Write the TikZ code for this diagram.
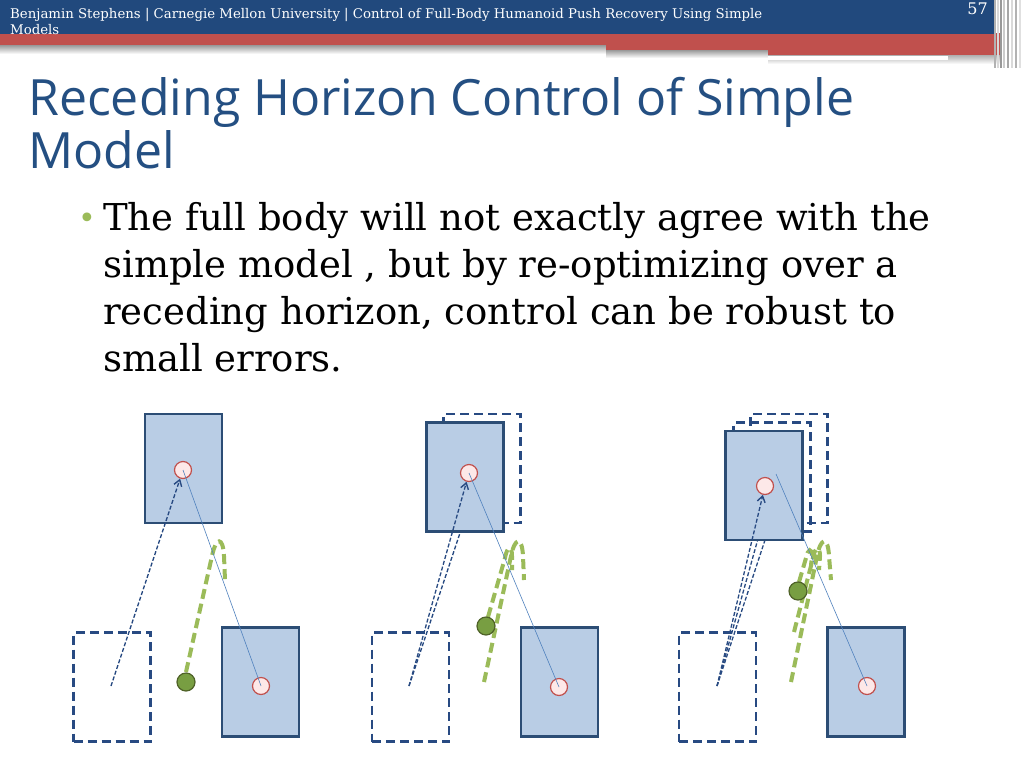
\documentclass[tikz,border=0pt]{standalone}
\usepackage{fontspec}
\setmainfont{DejaVu Serif}
\newfontfamily\titlefont{Open Sans}
\usetikzlibrary{arrows.meta}
\definecolor{hdrblue}{RGB}{33,73,125}
\definecolor{hdrred}{RGB}{192,80,77}
\definecolor{titleblue}{RGB}{36,79,130}
\definecolor{boxfill}{RGB}{185,205,229}
\definecolor{boxdraw}{RGB}{44,77,117}
\definecolor{dashblue}{RGB}{40,74,130}
\definecolor{grnline}{RGB}{155,187,89}
\definecolor{grnfill}{RGB}{120,158,66}
\definecolor{grndraw}{RGB}{79,98,40}
\definecolor{redc}{RGB}{192,80,77}
\definecolor{pinkc}{RGB}{253,232,232}
\definecolor{thinblue}{RGB}{79,129,189}
\tikzset{
  body/.style={rectangle, draw=boxdraw, fill=boxfill, line width=2.5pt, minimum width=77pt, minimum height=109pt, inner sep=0pt},
  ghost/.style={rectangle, draw=dashblue, line width=2.2pt, dash pattern=on 9pt off 5pt, minimum width=77pt, minimum height=109pt, inner sep=0pt},
  foot/.style={circle, draw=redc, line width=1.2pt, fill=pinkc, minimum size=17pt, inner sep=0pt},
  cop/.style={circle, draw=grndraw, fill=grnfill, line width=1.2pt, minimum size=18pt, inner sep=0pt},
  traj/.style={draw=grnline, line width=4pt, dash pattern=on 10pt off 5pt},
  plan/.style={draw=dashblue, line width=1.3pt, dash pattern=on 4pt off 2pt},
  planarrow/.style={plan, -{Straight Barb[length=6pt,width=8pt,line width=1.4pt]}},
  link/.style={draw=thinblue, line width=0.6pt},
  hdrtext/.style={text=white, font=\fontsize{13.3}{15}\selectfont, anchor=base west, inner sep=0pt},
  titletext/.style={text=titleblue, font=\titlefont\fontsize{50}{56}\selectfont, anchor=base west, inner sep=0pt},
  bodytext/.style={text=black, font=\fontsize{37}{42}\selectfont, anchor=base west, inner sep=0pt}
}
\begin{document}
\begin{tikzpicture}[x=1pt,y=-1pt]
\fill[white] (0,0) rectangle (1024,768);
\useasboundingbox (0,0) rectangle (1024,768);
% header
\shade[top color=black!45, bottom color=white] (0,44) rectangle (606,54);
\shade[top color=black!45, bottom color=white] (606,49) rectangle (768,58);
\shade[top color=black!35, bottom color=white] (768,54) rectangle (1000,64);
\fill[white] (768,56) rectangle (948,60);
\fill[hdrred] (0,33) rectangle (1000,45);
\fill[hdrred] (606,44) rectangle (1000,50);
\fill[hdrred] (768,49) rectangle (1000,55);
\fill[hdrblue] (0,0) rectangle (995,34);
\foreach \xx/\cc in {995/black!30,998/black!15,1001/black!40,1004/black!20,1008/black!35,1012/black!15,1016/black!30,1020/black!12}
  \draw[\cc, line width=1.5pt] (\xx,0) -- (\xx,68);
\node[hdrtext] (h1) at (10,19) {Benjamin Stephens | Carnegie Mellon University | Control of Full-Body Humanoid Push Recovery Using Simple};
\node[hdrtext] (h2) at (10,35) {Models};
\node[text=white, font=\fontsize{16}{18}\selectfont, anchor=base east, inner sep=0pt] (pg) at (988,15) {57};
% title
\node[titletext] (t1l) at (28,115) {Receding Horizon Control of Simple};
\node[titletext] (t2l) at (28,168) {Model};
% bullet
\node[text=grnline, font=\fontsize{30}{34}\selectfont, anchor=base west, inner sep=0pt] (bul) at (78,228) {•};
\node[bodytext] (l1) at (103,230) {The full body will not exactly agree with the};
\node[bodytext] (l2) at (103,277) {simple model , but by re-optimizing over a};
\node[bodytext] (l3) at (103,324) {receding horizon, control can be robust to};
\node[bodytext] (l4) at (103,371) {small errors.};

% ===== panel 1 =====
\node[ghost] (d1) at (112,687) {};
\node[body] (b1) at (260.5,682) {};
\node[body] (tp1) at (183.5,468.5) {};
\coordinate (s1) at (111,686);
\draw[traj] (186,672) -- (212,556) .. controls (216,537) and (223,536) .. (224,556) -- (225,580);
\node[foot] (f1) at (183,470) {};
\node[foot] (e1) at (261,686) {};
\node[cop] (g1) at (186,682) {};
\draw[link] (f1.center) -- (e1.center);
\draw[planarrow] (s1) -- (f1);

% ===== panel 2 =====
\node[ghost] (o2) at (482,468.5) {};
\coordinate (s2) at (409,686);
\coordinate (p2) at (481,470);
\draw[plan] (s2) -- (p2);
\node[body] (tp2) at (465,477) {};
\node[ghost] (d2) at (410.5,687) {};
\node[body] (b2) at (559.5,682) {};
\draw[traj] (484,682) -- (511,556) .. controls (515,537) and (522,536) .. (523,556) -- (524,580);
\node[foot] (f2) at (469,473) {};
\node[foot] (e2) at (559,687) {};
\draw[traj] (488,617) -- (505,558) .. controls (507,546) and (512,545) .. (512,556) -- (512,570);
\node[cop] (g2) at (486,626) {};
\draw[link] (f2.center) -- (e2.center);
\draw[planarrow] (s2) -- (f2);

% ===== panel 3 =====
\node[ghost] (o3b) at (789,468.5) {};
\node[ghost] (o3a) at (772,477) {};
\coordinate (s3) at (717,686);
\coordinate (p3a) at (776,474);
\coordinate (p3b) at (788,470);
\draw[plan] (s3) -- (p3a);
\draw[plan] (s3) -- (p3b);
\node[body] (tp3) at (764,485.5) {};
\node[ghost] (d3) at (717.5,687) {};
\node[body] (b3) at (866,682) {};
\draw[traj] (791,682) -- (817,556) .. controls (821,537) and (828,536) .. (829,556) -- (831,580);
\draw[traj] (794,632) -- (813,558) .. controls (815,546) and (820,546) .. (820,556) -- (819,570);
\draw[traj] (799,582) -- (806,558) .. controls (808,548) and (812,548) .. (812,556) -- (811,565);
\node[foot] (f3) at (765,486) {};
\node[foot] (e3) at (867,686) {};
\node[cop] (g3) at (798,591) {};
\draw[link] (p3a) -- (e3.center);
\draw[planarrow] (s3) -- (f3);
\end{tikzpicture}
\end{document}
